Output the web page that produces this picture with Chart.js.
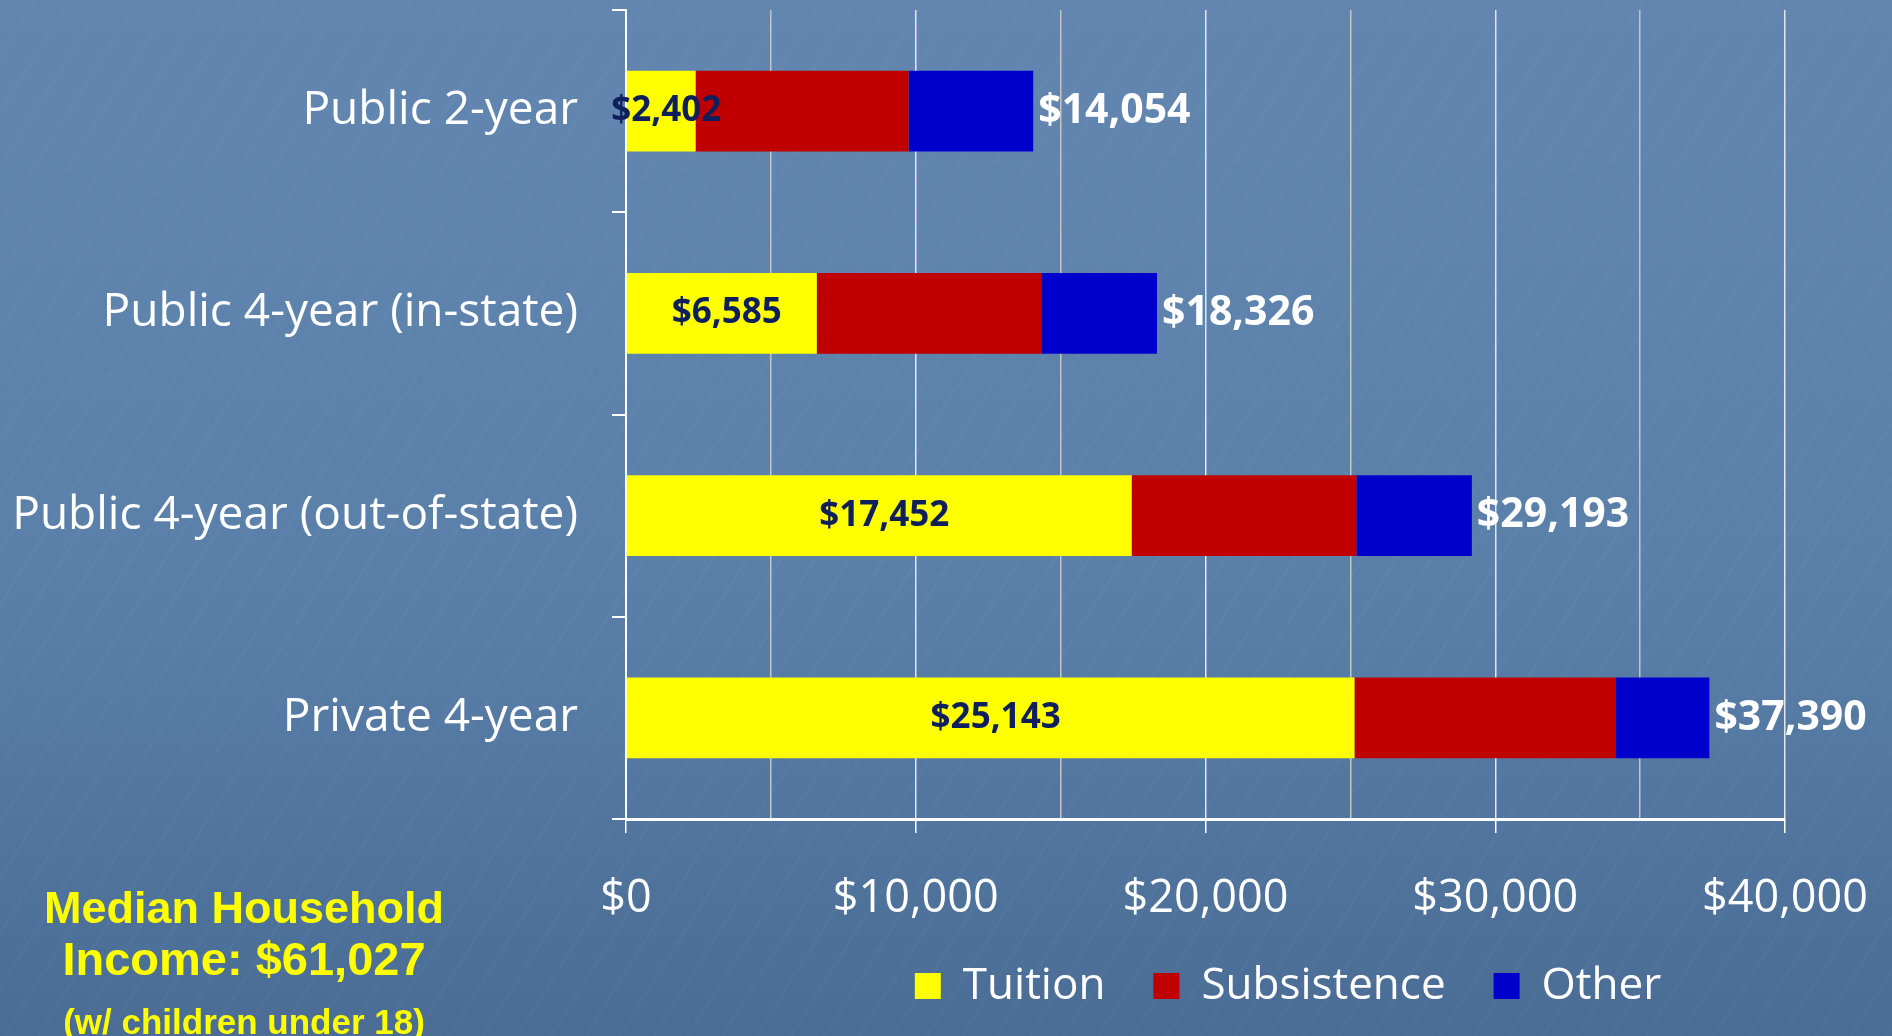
<!DOCTYPE html>
<html>
<head>
<meta charset="utf-8">
<script src="https://cdn.jsdelivr.net/npm/chart.js@4.4.0/dist/chart.umd.min.js"></script>
<style>
  html, body { margin: 0; padding: 0; }
  body {
    width: 1892px; height: 1036px; overflow: hidden;
    background:
      repeating-linear-gradient(122deg, rgba(255,255,255,0.018) 0 3px, rgba(0,0,0,0) 3px 29px),
      linear-gradient(180deg, #6286b0 0%, #5a80aa 55%, #4a6c95 100%);
  }
  #wrap { position: relative; width: 1892px; height: 1036px; }
  .note {
    position: absolute; left: 0; width: 488px; text-align: center;
    color: #ffff00; font-family: "Liberation Sans", Arial, sans-serif;
    font-weight: bold; line-height: 1; white-space: nowrap;
  }
</style>
</head>
<body>
<div id="wrap">
  <canvas id="costChart" width="1892" height="1036"></canvas>
  <div class="note" style="top:885px; font-size:45px;">Median Household</div>
  <div class="note" style="top:935px; font-size:47px;">Income: $61,027</div>
  <div class="note" style="top:1004px; font-size:35px;">(w/ children under 18)</div>
</div>
<script>
// Cost of attendance by sector
const sectors = ["Public 2-year", "Public 4-year (in-state)", "Public 4-year (out-of-state)", "Private 4-year"];
const tuition = [2402, 6585, 17452, 25143];
const subsistence = [7348, 7748, 7756, 9024];
const other = [4304, 3993, 3985, 3223];
const xTicks = [0, 10000, 20000, 30000, 40000];

const money = v => "$" + v.toLocaleString("en-US");
const totals = sectors.map((s, i) => tuition[i] + subsistence[i] + other[i]);

// labels inside the tuition bars and totals after each bar
const barLabels = {
  id: "barLabels",
  afterDatasetsDraw(chart) {
    const ctx = chart.ctx;
    ctx.save();
    ctx.textBaseline = "middle";
    chart.getDatasetMeta(0).data.forEach((bar, i) => {
      ctx.font = "bold 35px 'Open Sans'";
      ctx.fillStyle = "#0f1f5c";
      ctx.textAlign = "center";
      ctx.fillText(money(tuition[i]), (bar.x + bar.base) / 2 + 5, bar.y);
    });
    chart.getDatasetMeta(2).data.forEach((bar, i) => {
      ctx.font = "bold 41px 'Open Sans'";
      ctx.fillStyle = "#ffffff";
      ctx.textAlign = "left";
      ctx.fillText(money(totals[i]), bar.x + 5, bar.y);
    });
    ctx.restore();
  }
};

// legend sits under the right part of the plot, just below the tick labels
const legendMove = {
  id: "legendMove",
  afterLayout(chart) {
    const lg = chart.legend;
    const lab = lg.options.labels;
    const dx = 1288 - (lg.left + lg.right) / 2;
    const dy = 986 - (lg.top + lab.padding + Math.max(lab.font.size, lab.boxHeight) / 2);
    lg.left += dx; lg.right += dx;
    lg.top += dy; lg.bottom += dy;
  }
};

new Chart(document.getElementById("costChart"), {
  type: "bar",
  data: {
    labels: sectors,
    datasets: [
      { label: "Tuition", data: tuition, backgroundColor: "#ffff00" },
      { label: "Subsistence", data: subsistence, backgroundColor: "#c00000" },
      { label: "Other", data: other, backgroundColor: "#0000cc" }
    ]
  },
  options: {
    indexAxis: "y",
    responsive: false,
    animation: false,
    datasets: { bar: { barPercentage: 0.4, categoryPercentage: 1, borderWidth: 0 } },
    layout: { padding: { top: 10, right: 107, bottom: 0, left: 0 } },
    plugins: {
      tooltip: { enabled: false },
      legend: {
        position: "bottom",
        labels: {
          color: "#ffffff",
          font: { family: "'Open Sans'", size: 44 },
          boxWidth: 26,
          boxHeight: 26,
          padding: 48
        }
      }
    },
    scales: {
      x: {
        stacked: true,
        min: 0,
        max: 40000,
        afterFit(scale) {
          scale.height = 115;
          scale.paddingLeft = 0;
          scale.paddingRight = 0;
        },
        border: { color: "#ffffff", width: 3 },
        grid: {
          color: c => (c.tick && c.tick.value % 10000 === 0 ? "#e6e6e6" : "#c4c4c4"),
          lineWidth: 1.5,
          tickLength: 14,
          tickColor: c => (c.tick && xTicks.includes(c.tick.value) ? "#ffffff" : "rgba(0,0,0,0)")
        },
        ticks: {
          stepSize: 5000,
          autoSkip: false,
          maxRotation: 0,
          padding: 39,
          color: "#ffffff",
          font: { family: "'Open Sans'", size: 45 },
          callback: v => (xTicks.includes(v) ? money(v) : "")
        }
      },
      y: {
        stacked: true,
        afterFit(scale) {
          scale.width = 626;
          scale.paddingTop = 0;
          scale.paddingBottom = 0;
        },
        border: { color: "#ffffff", width: 2 },
        grid: {
          offset: true,
          drawOnChartArea: false,
          tickLength: 14,
          tickColor: "#ffffff",
          lineWidth: 2
        },
        ticks: {
          padding: 34,
          color: "#ffffff",
          font: { family: "'Open Sans'", size: 46 }
        }
      }
    }
  },
  plugins: [barLabels, legendMove]
});
</script>
</body>
</html>
